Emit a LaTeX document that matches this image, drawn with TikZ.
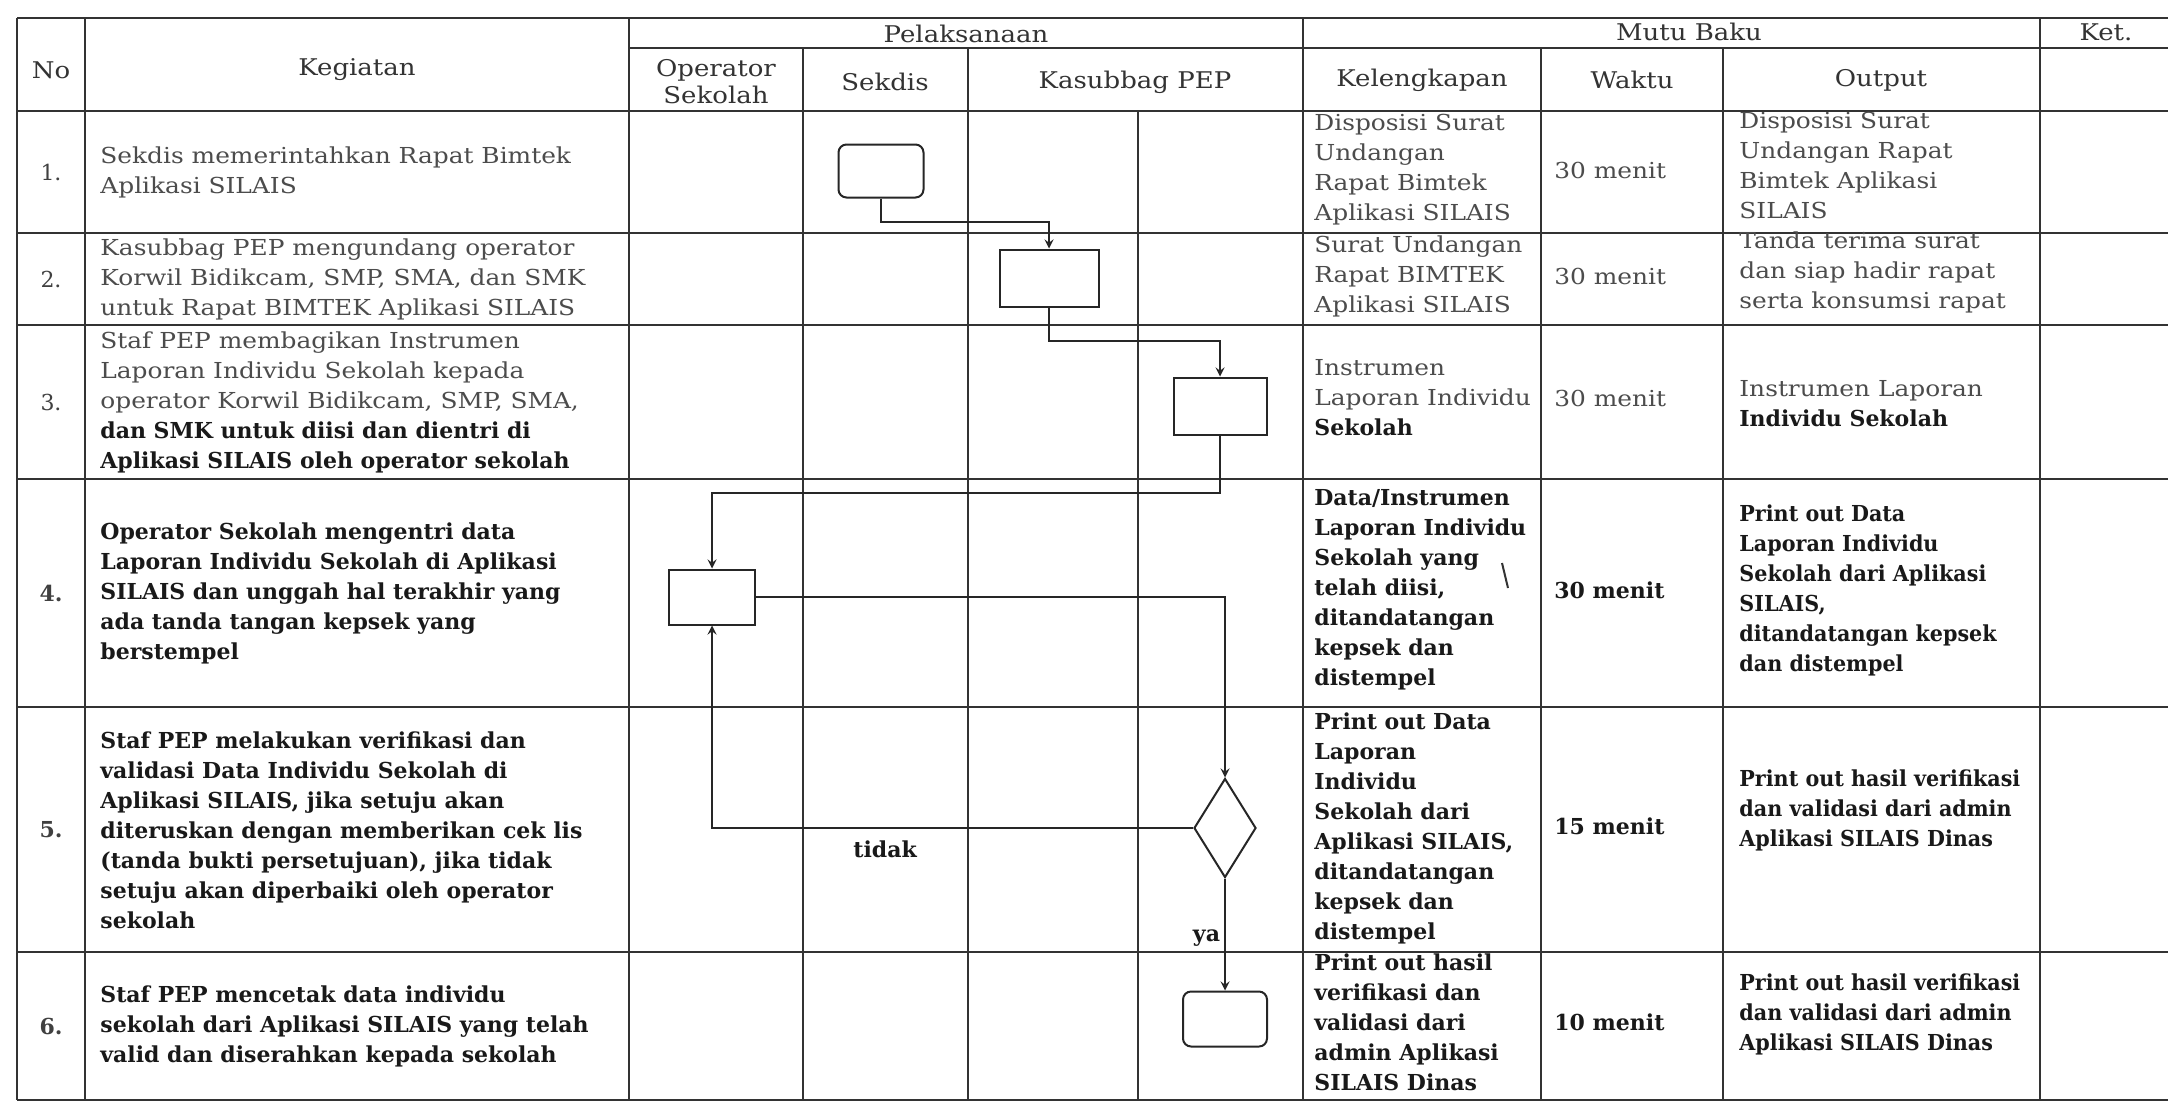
\documentclass[tikz,border=0pt]{standalone}
\usepackage{fontspec}
\setmainfont{DejaVu Serif}
\newfontfamily\widef{DejaVu Serif}[FakeStretch=1.13]
\newfontfamily\narf{DejaVu Serif}[FakeStretch=0.94]
\newcommand\inkb[1]{{\rmfamily\bfseries\color{black!90}#1}}
\usetikzlibrary{shapes.geometric}
\tikzset{
	rule/.style={line width=1pt,black!80},
	cell/.style={anchor=west,align=left,inner sep=0pt,text=black!70,font=\widef\fontsize{11}{15}\selectfont},
	bcell/.style={cell,text=black!90,font=\rmfamily\fontsize{11}{15}\selectfont\bfseries},
	ocell/.style={cell,text=black!90,font=\narf\fontsize{11}{15}\selectfont\bfseries},
	head/.style={align=center,inner sep=0pt,text=black!80,font=\widef\fontsize{11.5}{13.5}\selectfont},
	num/.style={inner sep=0pt,text=black!75,font=\fontsize{11}{15}\selectfont},
	proc/.style={draw=black!85,line width=1pt,inner sep=0pt},
	term/.style={proc,rounded corners=4pt},
	dec/.style={proc,diamond},
	flow/.style={line width=1pt,black!85,-stealth},
	lbl/.style={inner sep=2pt,text=black!90,font=\fontsize{11}{15}\selectfont\bfseries}
}
\begin{document}
\begin{tikzpicture}[x=0.5pt,y=-0.5pt]
	\useasboundingbox[fill=white] (0,0) rectangle (2168,1105);
	\draw[rule] (17,18) -- (2168,18);
	\draw[rule] (629,48) -- (2168,48);
	\foreach \y in {111,233,325,479,707,952,1100}
		\draw[rule] (17,\y) -- (2168,\y);
	\foreach \x in {17,85,629,1303,2040}
		\draw[rule] (\x,18) -- (\x,1100);
	\foreach \x in {803,968,1541,1723}
		\draw[rule] (\x,48) -- (\x,1100);
	\draw[rule] (1138,111) -- (1138,1100);

	\node[head] (hno) at (51,70) {No};
	\node[head] (hkeg) at (357,70) {Kegiatan};
	\node[head] (hpel) at (966,34) {Pelaksanaan};
	\node[head] (hops) at (716,82) {Operator\\Sekolah};
	\node[head] (hsek) at (885,82) {Sekdis};
	\node[head] (hkas) at (1135,82) {Kasubbag PEP};
	\node[head] (hmut) at (1689,32) {Mutu Baku};
	\node[head] (hket) at (2106,32) {Ket.};
	\node[head] (hkel) at (1422,80) {Kelengkapan};
	\node[head] (hwak) at (1632,80) {Waktu};
	\node[head] (hout) at (1881,80) {Output};

	\node[num] (n1) at (51,172) {1.};
	\node[num] (n2) at (51,279) {2.};
	\node[num] (n3) at (51,402) {3.};
	\node[num,font=\fontsize{11}{15}\selectfont\bfseries] (n4) at (51,593) {4.};
	\node[num,font=\fontsize{11}{15}\selectfont\bfseries] (n5) at (51,830) {5.};
	\node[num,font=\fontsize{11}{15}\selectfont\bfseries] (n6) at (51,1026) {6.};

	\node[cell] (k1) at (100,172) {Sekdis memerintahkan Rapat Bimtek\\Aplikasi SILAIS};
	\node[cell] (k2) at (100,279) {Kasubbag PEP mengundang operator\\Korwil Bidikcam, SMP, SMA, dan SMK\\untuk Rapat BIMTEK Aplikasi SILAIS};
	\node[cell] (k3) at (100,402) {Staf PEP membagikan Instrumen\\Laporan Individu Sekolah kepada\\operator Korwil Bidikcam, SMP, SMA,\\\inkb{dan SMK untuk diisi dan dientri di}\\\inkb{Aplikasi SILAIS oleh operator sekolah}};
	\node[bcell] (k4) at (100,593) {Operator Sekolah mengentri data\\Laporan Individu Sekolah di Aplikasi\\SILAIS dan unggah hal terakhir yang\\ada tanda tangan kepsek yang\\berstempel};
	\node[bcell] (k5) at (100,830) {Staf PEP melakukan verifikasi dan\\validasi Data Individu Sekolah di\\Aplikasi SILAIS, jika setuju akan\\diteruskan dengan memberikan cek lis\\(tanda bukti persetujuan), jika tidak\\setuju akan diperbaiki oleh operator\\sekolah};
	\node[bcell] (k6) at (100,1026) {Staf PEP mencetak data individu\\sekolah dari Aplikasi SILAIS yang telah\\valid dan diserahkan kepada sekolah};

	\node[cell] (l1) at (1314,170) {Disposisi Surat\\Undangan\\Rapat Bimtek\\Aplikasi SILAIS};
	\node[cell] (l2) at (1314,276) {Surat Undangan\\Rapat BIMTEK\\Aplikasi SILAIS};
	\node[cell] (l3) at (1314,398) {Instrumen\\Laporan Individu\\\inkb{Sekolah}};
	\node[bcell] (l4) at (1314,590) {Data/Instrumen\\Laporan Individu\\Sekolah yang\\telah diisi,\\ditandatangan\\kepsek dan\\distempel};
	\node[bcell] (l5) at (1314,828) {Print out Data\\Laporan\\Individu\\Sekolah dari\\Aplikasi SILAIS,\\ditandatangan\\kepsek dan\\distempel};
	\node[bcell] (l6) at (1314,1022) {Print out hasil\\verifikasi dan\\validasi dari\\admin Aplikasi\\SILAIS Dinas};
	\draw[line width=1pt,black!80] (1502,563) -- (1508,588);

	\node[cell] (w1) at (1554,170) {30 menit};
	\node[cell] (w2) at (1554,276) {30 menit};
	\node[cell] (w3) at (1554,398) {30 menit};
	\node[bcell] (w4) at (1554,590) {30 menit};
	\node[bcell] (w5) at (1554,826) {15 menit};
	\node[bcell] (w6) at (1554,1022) {10 menit};

	\node[cell] (o1) at (1739,165) {Disposisi Surat\\Undangan Rapat\\Bimtek Aplikasi\\SILAIS};
	\node[cell] (o2) at (1739,272) {Tanda terima surat\\dan siap hadir rapat\\serta konsumsi rapat};
	\node[cell] (o3) at (1739,404) {Instrumen Laporan\\\inkb{Individu Sekolah}};
	\node[ocell] (o4) at (1739,590) {Print out Data\\Laporan Individu\\Sekolah dari Aplikasi\\SILAIS,\\ditandatangan kepsek\\dan distempel};
	\node[ocell] (o5) at (1739,810) {Print out hasil verifikasi\\dan validasi dari admin\\Aplikasi SILAIS Dinas};
	\node[ocell] (o6) at (1739,1014) {Print out hasil verifikasi\\dan validasi dari admin\\Aplikasi SILAIS Dinas};

	\node[term,minimum width=42.5pt,minimum height=26.5pt] (a1) at (881,171) {};
	\node[proc,minimum width=49.5pt,minimum height=28.5pt] (a2) at (1049,278) {};
	\node[proc,minimum width=46.5pt,minimum height=28.5pt] (a3) at (1220,406) {};
	\node[proc,minimum width=43pt,minimum height=27.5pt] (a4) at (712,597) {};
	\node[dec,minimum width=31pt,minimum height=49.5pt] (d5) at (1225,828) {};
	\node[term,minimum width=42pt,minimum height=27.5pt] (a6) at (1225,1019) {};

	\draw[flow] (a1.south) -- ++(0,23) -| (a2.north);
	\draw[flow] (a2.south) -- ++(0,33) -| (a3.north);
	\draw[flow] (a3.south) -- ++(0,57) -| (a4.north);
	\draw[flow] (a4.east) -| (d5.north);
	\draw[flow] (d5.west) -| (a4.south) node[lbl,pos=0.32,below=4pt] (tdk) {tidak};
	\draw[flow] (d5.south) -- (a6.north) node[lbl,pos=0.53,left] (ya) {ya};
\end{tikzpicture}
\end{document}
